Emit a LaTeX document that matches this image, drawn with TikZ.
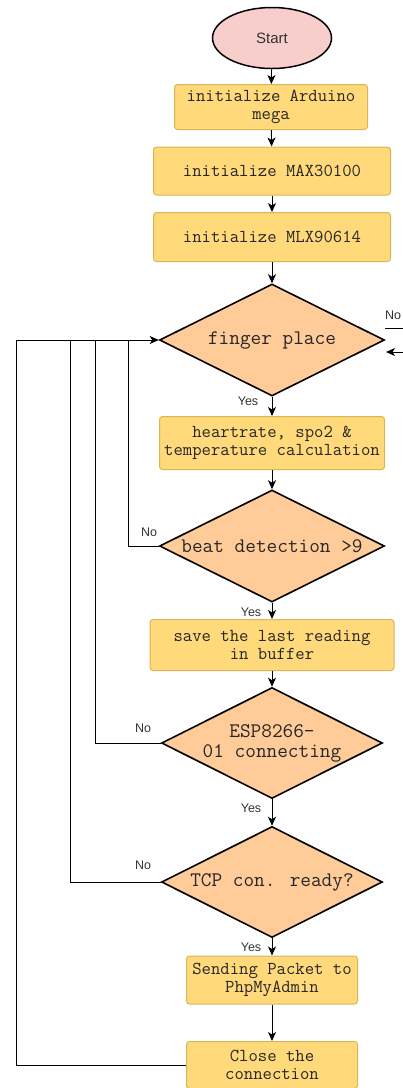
\documentclass[tikz,border=0pt]{standalone}
\usepackage{fontspec}
\setmainfont{Liberation Sans}
\usetikzlibrary{shapes.geometric,arrows.meta}
\definecolor{boxfill}{HTML}{FFD97A}
\definecolor{boxline}{HTML}{D6B656}
\definecolor{decfill}{HTML}{FFCC99}
\definecolor{startfill}{HTML}{F8CECC}
\definecolor{labcol}{HTML}{333333}
\begin{document}
\begin{tikzpicture}[x=1pt,y=-1pt,
  boxst/.style={draw=boxline, fill=boxfill, rounded corners=3pt, line width=1pt,
    align=center, inner sep=0pt, text=black!85,
    font=\ttfamily\fontsize{18.2}{18}\selectfont},
  decst/.style={diamond, aspect=2, draw=black, fill=decfill, line width=1.6pt,
    align=center, inner sep=0pt, text=black!85,
    font=\ttfamily\fontsize{20.7}{20}\selectfont},
  lab/.style={font=\fontsize{12.5}{14}\selectfont, text=labcol, inner sep=0pt},
  arr/.style={-{Stealth[length=9pt,width=8pt,inset=2.5pt]}, line width=0.9pt},
  ln/.style={line width=0.9pt}
]
\useasboundingbox (0,0) rectangle (403,1088);

\node[ellipse, draw=black, fill=startfill, line width=1.5pt, minimum width=119pt,
  minimum height=61pt, inner sep=0pt, font=\fontsize{15}{17}\selectfont, text=labcol]
  (start) at (272,38) {Start};
\node[boxst, minimum width=193pt, minimum height=45pt] (b1) at (271,107) {initialize Arduino\\mega};
\node[boxst, minimum width=237pt, minimum height=48pt] (b2) at (272,171) {initialize MAX30100};
\node[boxst, minimum width=237pt, minimum height=49pt] (b3) at (272,237) {initialize MLX90614};
\node[decst, minimum width=225pt, minimum height=112pt] (d1) at (272,340) {finger place};
\node[boxst, minimum width=225pt, minimum height=53pt] (b4) at (272,443) {heartrate, spo2 \&\\temperature calculation};
\node[decst, minimum width=225pt, minimum height=112pt] (d2) at (272,546) {beat detection >9};
\node[boxst, minimum width=244pt, minimum height=51pt] (b5) at (272,645) {save the last reading\\in buffer};
\node[decst, minimum width=221pt, minimum height=111pt] (d3) at (272,743) {ESP8266-\\01 connecting};
\node[decst, minimum width=221pt, minimum height=111pt] (d4) at (272,882) {TCP con. ready?};
\node[boxst, minimum width=171pt, minimum height=48pt] (b6) at (272,980) {Sending Packet to\\PhpMyAdmin};
\node[boxst, minimum width=171pt, minimum height=47pt] (b7) at (272,1065) {Close the\\connection};

% labels
\node[lab] (y1) at (248,401) {Yes};
\node[lab] (y2) at (251,612) {Yes};
\node[lab] (y3) at (251,808) {Yes};
\node[lab] (y4) at (251,947) {Yes};
\node[lab] (n2) at (149,532) {No};
\node[lab] (n3) at (143,728) {No};
\node[lab] (n4) at (143,865) {No};
\node[lab] (nr) at (393,315) {No};

% main flow
\draw[arr] (start) -- (b1);
\draw[arr] (b1) -- (b2);
\draw[arr] (b2) -- (b3);
\draw[arr] (b3) -- (d1);
\draw[arr] (d1) -- (b4);
\draw[arr] (b4) -- (d2);
\draw[arr] (d2) -- (b5);
\draw[arr] (b5) -- (d3);
\draw[arr] (d3) -- (d4);
\draw[arr] (d4) -- (b6);
\draw[arr] (b6) -- (b7);

% loops back
\coordinate (c2) at (128,340);
\coordinate (c3) at (95,340);
\coordinate (c4) at (70,340);
\coordinate (c7) at (16,340);
\draw[ln] (d2.west) -| (c2);
\draw[ln] (d3.west) -| (c3);
\draw[ln] (d4.west) -| (c4);
\draw[ln] (b7.west) -| (c7);
\draw[arr] (c7) -- (d1.west);

% right side fragment
\coordinate (r1) at (385,328);
\coordinate (r2) at (403,328);
\coordinate (r3) at (403,352);
\coordinate (r4) at (386,352);
\draw[ln] (r1) -- (r2);
\draw[arr] (r3) -- (r4);
\end{tikzpicture}
\end{document}
